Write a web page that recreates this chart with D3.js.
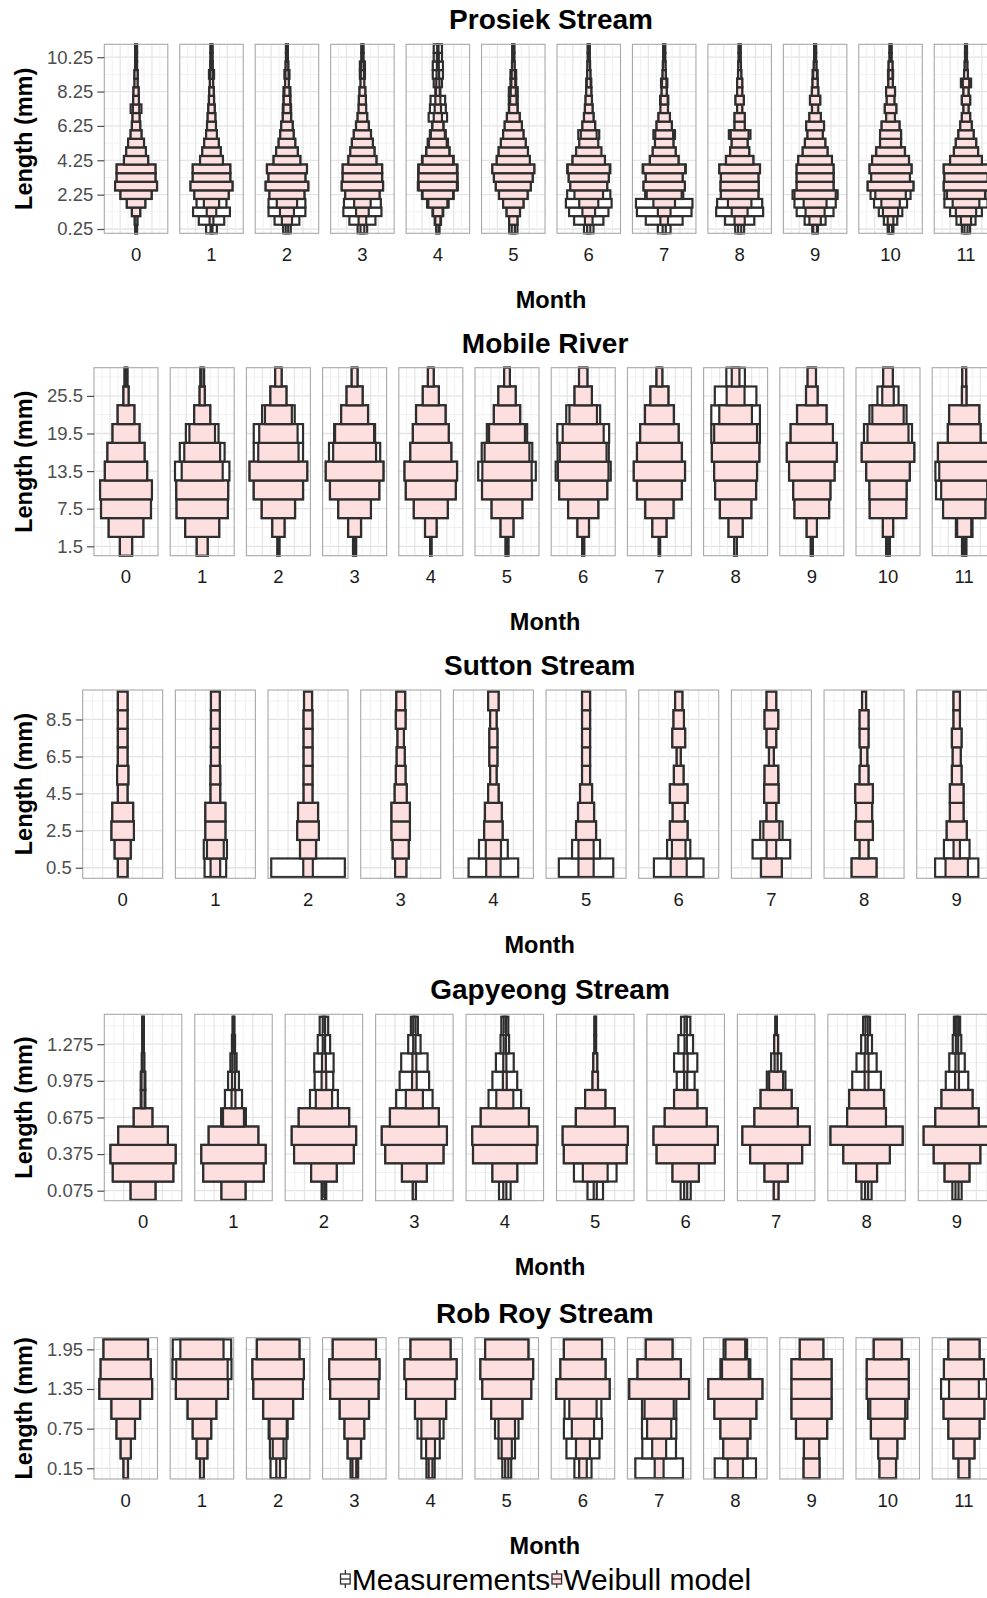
<!DOCTYPE html>
<html>
<head>
<meta charset="utf-8">
<script src="https://cdn.jsdelivr.net/npm/d3@7"></script>
<style>
  body { margin: 0; background: #fff; }
  svg { display: block; font-family: "Liberation Sans", Arial, Helvetica, sans-serif; }
</style>
</head>
<body>
<div id="chart"></div>
<script>
// Relative frequency (%) per length bin, one row per month, bins from small to large

// Prosiek Stream
var prosiekMonths = [0, 1, 2, 3, 4, 5, 6, 7, 8, 9, 10, 11];
var prosiekBins = [0.25, 0.75, 1.25, 1.75, 2.25, 2.75, 3.25, 3.75, 4.25, 4.75, 5.25, 5.75, 6.25, 6.75, 7.25, 7.75, 8.25, 8.75, 9.25, 9.75, 10.25, 10.75];
var prosiekTicks = [0.25, 2.25, 4.25, 6.25, 8.25, 10.25];
var prosiekModel = [
  [3, 4, 13, 29, 49, 66, 61, 61, 38, 31, 25, 17, 13, 11, 10, 9, 8, 5, 5, 3, 3, 3],
  [3, 6, 15, 24, 54, 66, 59, 59, 36, 29, 23, 17, 14, 12, 10, 8, 7, 5, 4, 3, 3, 3],
  [4, 16, 22, 32, 55, 67, 58, 63, 42, 34, 26, 21, 18, 13, 11, 10, 8, 6, 5, 4, 3, 3],
  [6, 12, 20, 26, 54, 65, 62, 62, 44, 38, 33, 27, 20, 15, 12, 11, 9, 6, 5, 4, 3, 3],
  [4, 8, 15, 30, 48, 60, 61, 60, 48, 36, 28, 22, 17, 13, 10, 8, 6, 5, 4, 3, 3, 2],
  [5, 13, 21, 32, 45, 55, 61, 66, 52, 46, 39, 32, 27, 20, 13, 10, 8, 6, 5, 4, 3, 3],
  [5, 12, 20, 30, 45, 58, 63, 66, 51, 40, 30, 25, 20, 15, 12, 10, 8, 6, 5, 4, 3, 3],
  [5, 12, 20, 34, 55, 65, 58, 66, 45, 36, 29, 28, 24, 18, 12, 11, 8, 7, 5, 4, 3, 3],
  [5, 16, 25, 37, 59, 60, 59, 64, 43, 30, 25, 28, 16, 16, 8, 13, 8, 8, 5, 4, 3, 3],
  [6, 18, 30, 36, 65, 58, 58, 58, 53, 39, 32, 24, 28, 18, 10, 16, 10, 8, 6, 4, 3, 3],
  [5, 9, 24, 29, 48, 72, 61, 66, 58, 45, 33, 33, 28, 14, 18, 12, 14, 7, 6, 6, 3, 3],
  [5, 16, 32, 42, 60, 70, 68, 70, 50, 38, 32, 24, 18, 13, 8, 13, 8, 10, 6, 4, 3, 3]
];
var prosiekMeasured = [
  [3, 4, 13, 29, 49, 66, 61, 61, 38, 31, 25, 17, 13, 11, 17, 9, 8, 4, 5, 3, 3, 3],
  [17, 40, 58, 47, 54, 66, 59, 59, 36, 29, 23, 17, 14, 12, 10, 8, 7, 5, 8, 4, 3, 3],
  [12, 39, 58, 58, 55, 67, 58, 63, 42, 34, 26, 21, 18, 13, 13, 11, 11, 5, 8, 4, 3, 3],
  [15, 41, 60, 58, 54, 65, 62, 62, 44, 38, 33, 27, 20, 15, 11, 11, 9, 5, 8, 8, 3, 3],
  [5, 10, 17, 34, 50, 63, 62, 62, 50, 37, 32, 25, 18, 29, 25, 23, 8, 13, 16, 16, 13, 13],
  [13, 13, 21, 32, 45, 55, 61, 66, 52, 46, 39, 32, 27, 20, 14, 14, 14, 9, 9, 4, 3, 3],
  [15, 46, 62, 72, 68, 58, 63, 68, 51, 36, 27, 33, 20, 15, 12, 10, 8, 8, 5, 4, 3, 3],
  [20, 58, 86, 89, 60, 65, 58, 68, 45, 36, 29, 34, 24, 18, 10, 13, 8, 10, 5, 4, 3, 3],
  [14, 46, 74, 71, 59, 60, 59, 64, 43, 30, 25, 34, 16, 16, 8, 13, 8, 8, 5, 4, 3, 3],
  [9, 33, 58, 65, 71, 58, 58, 58, 53, 39, 32, 24, 28, 18, 6, 16, 10, 8, 8, 4, 3, 3],
  [9, 21, 37, 52, 63, 72, 61, 66, 58, 45, 33, 33, 28, 9, 18, 12, 14, 7, 8, 6, 3, 3],
  [13, 30, 50, 68, 68, 70, 68, 70, 50, 38, 32, 24, 18, 13, 8, 13, 8, 16, 6, 4, 3, 3]
];

// Mobile River
var mobileMonths = [0, 1, 2, 3, 4, 5, 6, 7, 8, 9, 10, 11];
var mobileBins = [1.5, 4.5, 7.5, 10.5, 13.5, 16.5, 19.5, 22.5, 25.5, 28.5];
var mobileTicks = [1.5, 7.5, 13.5, 19.5, 25.5];
var mobileModel = [
  [19, 54, 78, 81, 66, 58, 42, 26, 8, 3],
  [17, 53, 80, 81, 64, 56, 40, 25, 8, 4],
  [3, 19, 52, 77, 90, 63, 60, 42, 25, 10],
  [3, 20, 51, 77, 90, 67, 61, 42, 25, 9],
  [2, 18, 53, 78, 82, 64, 56, 46, 25, 9],
  [2, 20, 48, 78, 77, 70, 56, 41, 27, 9],
  [3, 18, 47, 75, 79, 73, 64, 43, 27, 13],
  [2, 22, 44, 70, 80, 70, 60, 45, 28, 9],
  [4, 22, 49, 64, 67, 74, 67, 51, 28, 12],
  [3, 16, 54, 58, 71, 78, 66, 46, 18, 13],
  [2, 16, 57, 58, 68, 82, 64, 49, 18, 15],
  [3, 22, 66, 72, 78, 82, 51, 47, 7, 6]
];
var mobileMeasured = [
  [19, 54, 78, 81, 66, 58, 42, 26, 8, 5],
  [17, 53, 80, 81, 85, 70, 51, 25, 8, 6],
  [3, 19, 52, 77, 90, 77, 77, 51, 25, 10],
  [5, 20, 51, 77, 90, 80, 64, 42, 25, 9],
  [2, 18, 53, 78, 82, 64, 56, 46, 25, 9],
  [5, 20, 48, 78, 90, 79, 63, 41, 27, 9],
  [3, 18, 47, 75, 86, 80, 81, 53, 27, 13],
  [2, 22, 44, 70, 80, 70, 60, 45, 28, 9],
  [4, 22, 49, 64, 67, 74, 76, 76, 65, 29],
  [3, 16, 54, 58, 71, 78, 66, 46, 18, 13],
  [6, 16, 57, 58, 68, 82, 75, 58, 33, 15],
  [7, 26, 66, 88, 90, 82, 51, 47, 7, 6]
];

// Sutton Stream
var suttonMonths = [0, 1, 2, 3, 4, 5, 6, 7, 8, 9];
var suttonBins = [0.5, 1.5, 2.5, 3.5, 4.5, 5.5, 6.5, 7.5, 8.5, 9.5];
var suttonTicks = [0.5, 2.5, 4.5, 6.5, 8.5];
var suttonModel = [
  [12, 20, 28, 26, 12, 14, 12, 12, 12, 12],
  [12, 21, 25, 25, 12, 12, 11, 11, 11, 11],
  [12, 20, 27, 25, 11, 11, 11, 11, 11, 10],
  [14, 20, 23, 23, 15, 12, 10, 8, 12, 11],
  [18, 19, 23, 21, 13, 8, 10, 10, 8, 13],
  [19, 19, 25, 20, 15, 10, 10, 10, 10, 10],
  [20, 17, 22, 15, 22, 12, 5, 16, 13, 9],
  [26, 12, 20, 12, 18, 17, 6, 12, 17, 12],
  [31, 11, 22, 20, 22, 11, 8, 11, 11, 5],
  [28, 8, 25, 17, 17, 12, 10, 12, 8, 8]
];
var suttonMeasured = [
  [12, 20, 28, 26, 12, 14, 12, 12, 12, 12],
  [27, 29, 25, 25, 12, 12, 11, 11, 11, 11],
  [92, 20, 27, 25, 11, 11, 11, 11, 11, 10],
  [14, 20, 23, 23, 15, 12, 10, 8, 12, 11],
  [62, 36, 23, 21, 13, 8, 10, 10, 8, 13],
  [68, 35, 25, 20, 15, 10, 10, 10, 10, 10],
  [62, 29, 22, 15, 22, 12, 5, 16, 13, 9],
  [26, 47, 28, 12, 18, 17, 6, 12, 17, 12],
  [31, 11, 22, 20, 22, 11, 8, 11, 11, 5],
  [54, 32, 25, 17, 17, 12, 10, 12, 8, 8]
];

// Gapyeong Stream
var gapyeongMonths = [0, 1, 2, 3, 4, 5, 6, 7, 8, 9];
var gapyeongBins = [0.075, 0.225, 0.375, 0.525, 0.675, 0.825, 0.975, 1.125, 1.275, 1.425];
var gapyeongTicks = [0.075, 0.375, 0.675, 0.975, 1.275];
var gapyeongModel = [
  [32, 78, 84, 64, 24, 4, 4, 3, 2, 2],
  [31, 78, 83, 64, 27, 5, 4, 3, 2, 2],
  [3, 33, 77, 83, 65, 21, 6, 5, 3, 3],
  [4, 32, 75, 84, 63, 22, 6, 5, 3, 3],
  [4, 32, 82, 84, 62, 22, 5, 4, 3, 3],
  [4, 32, 81, 84, 50, 26, 7, 5, 2, 2],
  [4, 34, 75, 83, 54, 30, 4, 5, 3, 3],
  [6, 30, 67, 87, 56, 40, 18, 4, 5, 2],
  [4, 27, 60, 93, 50, 45, 5, 5, 3, 3],
  [4, 32, 60, 86, 56, 40, 5, 4, 3, 3]
];
var gapyeongMeasured = [
  [32, 78, 84, 64, 24, 6, 6, 3, 2, 2],
  [31, 78, 83, 64, 32, 22, 14, 8, 4, 2],
  [6, 33, 77, 83, 65, 36, 24, 25, 16, 11],
  [4, 32, 75, 84, 63, 47, 38, 34, 16, 9],
  [15, 32, 82, 84, 62, 42, 32, 23, 11, 9],
  [20, 55, 81, 84, 50, 26, 7, 5, 2, 2],
  [13, 34, 75, 83, 54, 30, 23, 30, 19, 12],
  [6, 30, 67, 87, 56, 40, 24, 13, 5, 2],
  [13, 27, 60, 93, 50, 45, 37, 26, 14, 9],
  [12, 32, 60, 86, 56, 40, 29, 20, 11, 8]
];

// Rob Roy Stream
var robroyMonths = [0, 1, 2, 3, 4, 5, 6, 7, 8, 9, 10, 11];
var robroyBins = [0.15, 0.45, 0.75, 1.05, 1.35, 1.65, 1.95];
var robroyTicks = [0.15, 0.75, 1.35, 1.95];
var robroyModel = [
  [7, 16, 29, 45, 83, 79, 70],
  [6, 17, 29, 45, 82, 81, 68],
  [6, 17, 27, 47, 78, 81, 67],
  [6, 21, 31, 46, 76, 79, 68],
  [6, 14, 29, 49, 77, 82, 63],
  [5, 16, 26, 49, 77, 83, 68],
  [12, 22, 35, 43, 84, 71, 60],
  [14, 22, 38, 46, 94, 68, 42],
  [24, 38, 47, 66, 85, 42, 31],
  [25, 24, 49, 63, 63, 63, 37],
  [26, 30, 53, 55, 66, 66, 44],
  [17, 33, 49, 64, 47, 63, 49]
];
var robroyMeasured = [
  [7, 16, 29, 45, 83, 79, 70],
  [6, 17, 29, 45, 82, 93, 92],
  [24, 26, 30, 47, 78, 81, 67],
  [12, 21, 31, 46, 76, 79, 68],
  [13, 29, 41, 49, 77, 82, 63],
  [14, 26, 37, 49, 77, 83, 68],
  [27, 52, 60, 58, 84, 71, 60],
  [75, 53, 54, 54, 94, 68, 42],
  [65, 38, 47, 66, 85, 47, 37],
  [25, 24, 49, 63, 63, 63, 37],
  [26, 30, 53, 62, 66, 66, 44],
  [17, 33, 49, 64, 72, 63, 49]
];

// Define SVG area dimensions
var svgWidth = 987;
var svgHeight = 1598;

var modelFill = "#fedcdc";
var outline = "#2e2e2e";

var svg = d3.select("#chart")
  .append("svg")
    .attr("width", svgWidth)
    .attr("height", svgHeight);

// Layout of the five stacked plots
var panels = [
  { title: "Prosiek Stream", months: prosiekMonths, bins: prosiekBins, ticks: prosiekTicks,
    model: prosiekModel, measured: prosiekMeasured,
    top: 44.3, bottom: 233.3, left: 104.3, facetWidth: 63.5, step: 75.45, yDomain: [0, 11] },
  { title: "Mobile River", months: mobileMonths, bins: mobileBins, ticks: mobileTicks,
    model: mobileModel, measured: mobileMeasured,
    top: 367.7, bottom: 555.7, left: 94, facetWidth: 64, step: 76.2, yDomain: [0, 30] },
  { title: "Sutton Stream", months: suttonMonths, bins: suttonBins, ticks: suttonTicks,
    model: suttonModel, measured: suttonMeasured,
    top: 690, bottom: 878.3, left: 82.7, facetWidth: 80, step: 92.67, yDomain: [-0.07, 10.09] },
  { title: "Gapyeong Stream", months: gapyeongMonths, bins: gapyeongBins, ticks: gapyeongTicks,
    model: gapyeongModel, measured: gapyeongMeasured,
    top: 1014.3, bottom: 1200.7, left: 104.3, facetWidth: 77.5, step: 90.44, yDomain: [-0.007, 1.52] },
  { title: "Rob Roy Stream", months: robroyMonths, bins: robroyBins, ticks: robroyTicks,
    model: robroyModel, measured: robroyMeasured,
    top: 1337.7, bottom: 1479, left: 94, facetWidth: 63.5, step: 76.2, yDomain: [-0.012, 2.126] }
];

panels.forEach(function(p) {
  var n = p.months.length;
  var pad = 1 - p.facetWidth / p.step;

  var yScale = d3.scaleLinear()
    .domain(p.yDomain)
    .range([p.bottom, p.top]);

  var facetScale = d3.scaleBand()
    .domain(p.months)
    .range([p.left, p.left + p.step * (n - pad)])
    .paddingInner(pad)
    .paddingOuter(0);

  var binWidth = p.bins[1] - p.bins[0];
  var tickStep = p.ticks[1] - p.ticks[0];
  var minorTicks = p.ticks.map(t => t + tickStep / 2)
    .concat([p.ticks[0] - tickStep / 2])
    .filter(t => t > p.yDomain[0] && t < p.yDomain[1]);

  p.months.forEach(function(m, i) {
    var x0 = facetScale(m);
    var xScale = d3.scaleLinear()
      .domain([-50, 50])
      .range([x0, x0 + facetScale.bandwidth()]);

    var fg = svg.append("g");

    fg.append("rect")
      .attr("x", x0).attr("y", p.top)
      .attr("width", facetScale.bandwidth()).attr("height", p.bottom - p.top)
      .attr("fill", "#fff");

    // grid
    fg.selectAll("line.hminor").data(minorTicks).enter().append("line")
      .attr("x1", x0).attr("x2", x0 + facetScale.bandwidth())
      .attr("y1", d => yScale(d)).attr("y2", d => yScale(d))
      .attr("stroke", "#f0f0f0").attr("stroke-width", 1);
    fg.selectAll("line.hmajor").data(p.ticks).enter().append("line")
      .attr("x1", x0).attr("x2", x0 + facetScale.bandwidth())
      .attr("y1", d => yScale(d)).attr("y2", d => yScale(d))
      .attr("stroke", "#e4e4e4").attr("stroke-width", 1.3);
    fg.selectAll("line.v").data(d3.range(-37.5, 50, 12.5)).enter().append("line")
      .attr("x1", d => xScale(d)).attr("x2", d => xScale(d))
      .attr("y1", p.top).attr("y2", p.bottom)
      .attr("stroke", (d, k) => k % 2 ? "#e6e6e6" : "#f0f0f0")
      .attr("stroke-width", (d, k) => k % 2 ? 1.3 : 1);

    var measuredRows = p.bins.map((b, k) => ({ bin: b, v: p.measured[i][k] }));
    var modelRows = p.bins.map((b, k) => ({ bin: b, v: p.model[i][k] }));

    fg.selectAll("rect.measured")
      .data(measuredRows)
      .enter()
      .append("rect")
      .attr("class", "measured")
      .attr("x", d => xScale(-d.v / 2))
      .attr("width", d => xScale(d.v / 2) - xScale(-d.v / 2))
      .attr("y", d => yScale(d.bin + binWidth / 2))
      .attr("height", d => yScale(d.bin - binWidth / 2) - yScale(d.bin + binWidth / 2))
      .attr("fill", "#fff")
      .attr("stroke", outline)
      .attr("stroke-width", 2.2);

    fg.selectAll("rect.model")
      .data(modelRows)
      .enter()
      .append("rect")
      .attr("class", "model")
      .attr("x", d => xScale(-d.v / 2))
      .attr("width", d => xScale(d.v / 2) - xScale(-d.v / 2))
      .attr("y", d => yScale(d.bin + binWidth / 2))
      .attr("height", d => yScale(d.bin - binWidth / 2) - yScale(d.bin + binWidth / 2))
      .attr("fill", modelFill)
      .attr("fill-opacity", 0.92)
      .attr("stroke", outline)
      .attr("stroke-width", 2.2);

    fg.append("rect")
      .attr("x", x0).attr("y", p.top)
      .attr("width", facetScale.bandwidth()).attr("height", p.bottom - p.top)
      .attr("fill", "none")
      .attr("stroke", "#a8a8a8")
      .attr("stroke-width", 1.1);

    // month label
    svg.append("text")
      .attr("x", x0 + facetScale.bandwidth() / 2)
      .attr("y", p.bottom + 27.6)
      .attr("text-anchor", "middle")
      .style("font-size", "18.5px")
      .style("fill", "#1a1a1a")
      .text(m);
  });

  // y axis
  var leftAxis = d3.axisLeft(yScale)
    .tickValues(p.ticks)
    .tickSize(7)
    .tickPadding(4)
    .tickFormat(d => String(d));

  var axisG = svg.append("g")
    .attr("transform", `translate(${p.left}, 0)`)
    .call(leftAxis);
  axisG.select(".domain").remove();
  axisG.selectAll(".tick line").attr("stroke", "#4d4d4d").attr("stroke-width", 1.2);
  axisG.selectAll(".tick text")
    .style("font-size", "18.5px")
    .style("fill", "#4d4d4d");
  axisG.attr("font-size", null).attr("font-family", null);

  var plotCenter = (p.left + facetScale.range()[1]) / 2;

  // Add title and axis labels
  svg.append("text")
    .attr("x", plotCenter)
    .attr("y", p.top - 15)
    .attr("text-anchor", "middle")
    .style("font-size", "28px")
    .style("font-weight", "bold")
    .text(p.title);

  svg.append("text")
    .attr("x", plotCenter)
    .attr("y", p.bottom + 74.5)
    .attr("text-anchor", "middle")
    .style("font-size", "23.5px")
    .style("font-weight", "bold")
    .text("Month");

  svg.append("text")
    .attr("transform", `translate(24, ${(p.top + p.bottom) / 2}) rotate(-90)`)
    .attr("text-anchor", "middle")
    .attr("dominant-baseline", "central")
    .style("font-size", "23.5px")
    .style("font-weight", "bold")
    .text("Length (mm)");
});

// Legend
var legendItems = [
  { label: "Measurements", fill: "#fff" },
  { label: "Weibull model", fill: modelFill }
];
var legend = svg.append("g");
var cursor = 0;
var legendY = 1579;
legendItems.forEach(function(item) {
  var kg = legend.append("g").attr("transform", `translate(${cursor}, 0)`);
  kg.append("line")
    .attr("x1", 5.5).attr("x2", 5.5)
    .attr("y1", legendY - 9).attr("y2", legendY + 9)
    .attr("stroke", outline).attr("stroke-width", 1.3);
  kg.append("rect")
    .attr("x", 0.7).attr("y", legendY - 5)
    .attr("width", 9.6).attr("height", 10)
    .attr("fill", item.fill)
    .attr("stroke", outline).attr("stroke-width", 1.3);
  kg.append("line")
    .attr("x1", 0.7).attr("x2", 10.3)
    .attr("y1", legendY).attr("y2", legendY)
    .attr("stroke", outline).attr("stroke-width", 1.3);
  var t = kg.append("text")
    .attr("x", 12)
    .attr("y", legendY + 10.5)
    .style("font-size", "30px")
    .style("fill", "#000")
    .text(item.label);
  cursor += 12 + t.node().getComputedTextLength() + 1;
});
legend.attr("transform", `translate(${546 - cursor / 2}, 0)`);
</script>
</body>
</html>
